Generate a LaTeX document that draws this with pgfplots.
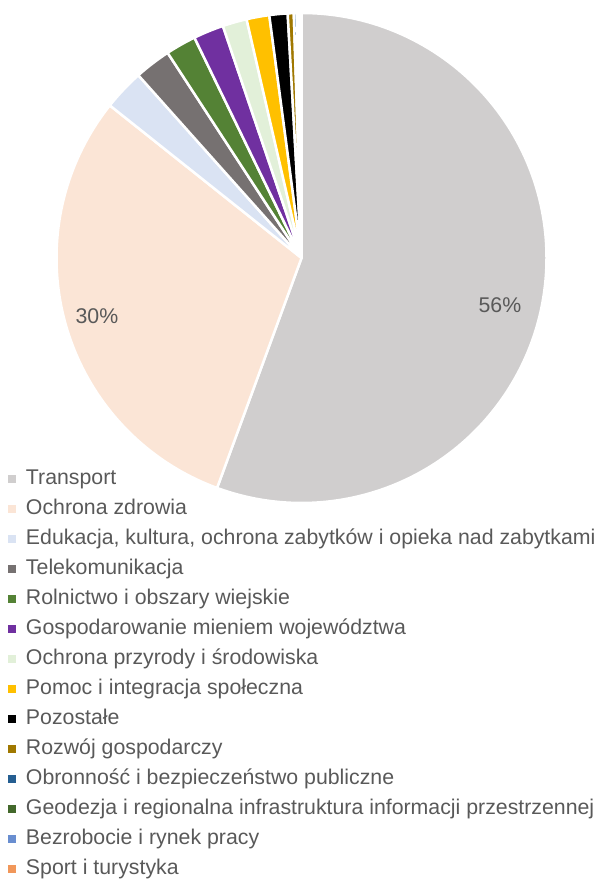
\documentclass[border=0pt]{standalone}
\usepackage{pgfplots}
\usepackage{pgfplotstable}
\pgfplotsset{compat=1.18}
\usepackage{fontspec}
\setmainfont{Liberation Sans}
\definecolor{textgray}{HTML}{595959}
\definecolor{pc0}{HTML}{D0CECE}
\definecolor{pc1}{HTML}{FBE5D6}
\definecolor{pc2}{HTML}{DAE3F3}
\definecolor{pc3}{HTML}{767171}
\definecolor{pc4}{HTML}{548235}
\definecolor{pc5}{HTML}{7030A0}
\definecolor{pc6}{HTML}{E2F0D9}
\definecolor{pc7}{HTML}{FFC000}
\definecolor{pc8}{HTML}{000000}
\definecolor{pc9}{HTML}{A07800}
\definecolor{pc10}{HTML}{255E91}
\definecolor{pc11}{HTML}{43682B}
\definecolor{pc12}{HTML}{698ED0}
\definecolor{pc13}{HTML}{F1975A}

\pgfplotstableread{
value
55.6
30.1
2.7
2.4
2.0
2.0
1.6
1.5
1.2
0.4
0.2
0.1
0.1
0.1
}\piedata

\begin{document}%
\begin{tikzpicture}
\pgfplotstablegetrowsof{\piedata}
\pgfmathtruncatemacro\nrows{\pgfplotsretval-1}
\gdef\cum{0}
\foreach \i in {0,...,\nrows}{%
  \pgfplotstablegetelem{\i}{value}\of\piedata
  \let\val\pgfplotsretval
  \pgfmathsetmacro\a{90-3.6*\cum}%
  \pgfmathsetmacro\newcum{\cum+\val}%
  \pgfmathsetmacro\b{90-3.6*\newcum}%
  \expandafter\xdef\csname sa\i\endcsname{\a}%
  \expandafter\xdef\csname sb\i\endcsname{\b}%
  \xdef\cum{\newcum}%
}
\begin{axis}[
  at={(301.5pt,622pt)}, anchor=origin,
  x=245pt, y=245pt, xmin=-1, xmax=1, ymin=-1, ymax=1,
  hide axis, clip=false,
  legend image code/.code={\fill[#1] (0pt,-4pt) rectangle (8pt,4pt);},
  legend cell align=left,
  legend style={draw=none, fill=none, at={(-0.099,0.0714)}, anchor=north west,
    inner sep=0pt, outer sep=0pt, text=textgray,
    font=\fontsize{21.3}{25}\selectfont, row sep=9pt,
    nodes={inner sep=0pt, text height=16pt, text depth=5pt},
    /tikz/every odd column/.append style={column sep=10pt}},
]
\pgfplotsinvokeforeach{0,...,13}{
  \filldraw[fill=pc#1, draw=white, line width=2.5pt, line join=round]
    (axis cs:0,0) -- ++(\csname sa#1\endcsname:245pt)
    arc[start angle=\csname sa#1\endcsname, end angle=\csname sb#1\endcsname, radius=245pt] -- cycle;
}
\node[text=textgray, font=\fontsize{21.3}{25}\selectfont] at (axis cs:0.810,-0.192) {56\%};
\node[text=textgray, font=\fontsize{21.3}{25}\selectfont] at (axis cs:-0.835,-0.237) {30\%};
\addlegendimage{fill=pc0, draw=none}\addlegendentry{Transport}
\addlegendimage{fill=pc1, draw=none}\addlegendentry{Ochrona zdrowia}
\addlegendimage{fill=pc2, draw=none}\addlegendentry{Edukacja, kultura, ochrona zabytków i opieka nad zabytkami}
\addlegendimage{fill=pc3, draw=none}\addlegendentry{Telekomunikacja}
\addlegendimage{fill=pc4, draw=none}\addlegendentry{Rolnictwo i obszary wiejskie}
\addlegendimage{fill=pc5, draw=none}\addlegendentry{Gospodarowanie mieniem województwa}
\addlegendimage{fill=pc6, draw=none}\addlegendentry{Ochrona przyrody i środowiska}
\addlegendimage{fill=pc7, draw=none}\addlegendentry{Pomoc i integracja społeczna}
\addlegendimage{fill=pc8, draw=none}\addlegendentry{Pozostałe}
\addlegendimage{fill=pc9, draw=none}\addlegendentry{Rozwój gospodarczy}
\addlegendimage{fill=pc10, draw=none}\addlegendentry{Obronność i bezpieczeństwo publiczne}
\addlegendimage{fill=pc11, draw=none}\addlegendentry{Geodezja i regionalna infrastruktura informacji przestrzennej}
\addlegendimage{fill=pc12, draw=none}\addlegendentry{Bezrobocie i rynek pracy}
\addlegendimage{fill=pc13, draw=none}\addlegendentry{Sport i turystyka}
\end{axis}
\pgfresetboundingbox
\path[use as bounding box] (0,0) rectangle (599pt,880pt);
\end{tikzpicture}%
\end{document}
